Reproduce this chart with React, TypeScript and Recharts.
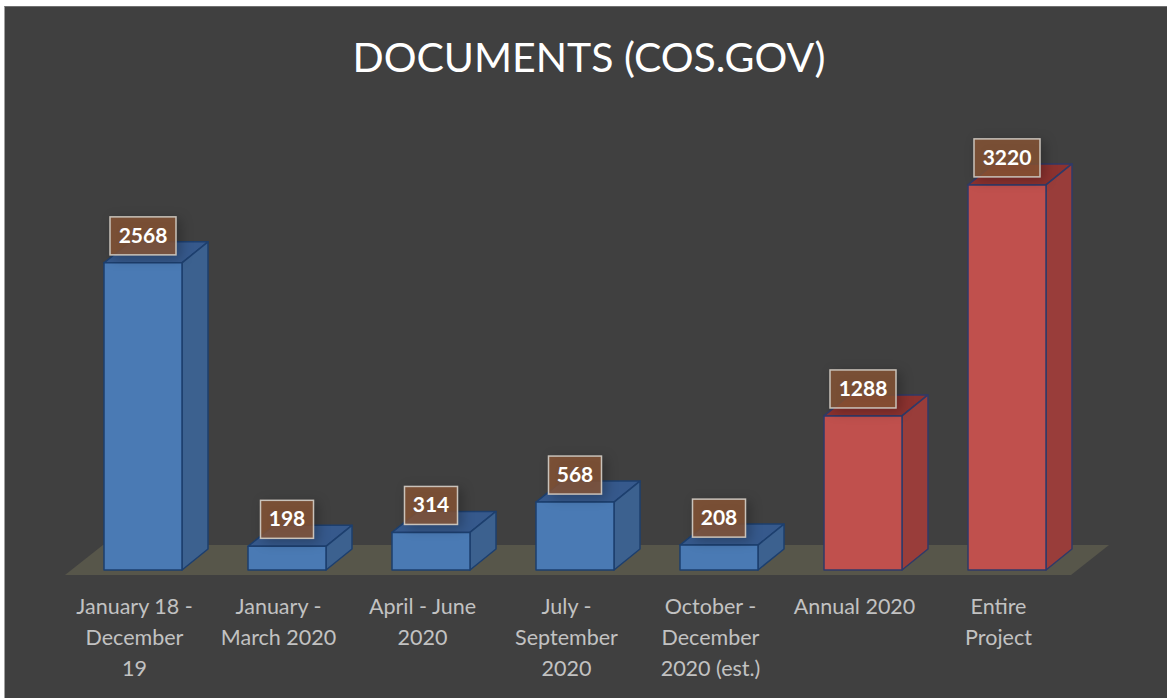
import { BarChart, Bar, XAxis, YAxis, LabelList, ReferenceArea } from "recharts";

const categories = [
  "January 18 - December 19",
  "January - March 2020",
  "April - June 2020",
  "July - September 2020",
  "October - December 2020 (est.)",
  "Annual 2020",
  "Entire Project",
];
const documents = [2568, 198, 314, 568, 208, 1288, 3220];
const highlighted = ["Annual 2020", "Entire Project"];

// line breaks as they fall under the bars
const tickLines: string[][] = [
  ["January 18 -", "December", "19"],
  ["January -", "March 2020"],
  ["April - June", "2020"],
  ["July -", "September", "2020"],
  ["October -", "December", "2020 (est.)"],
  ["Annual 2020"],
  ["Entire", "Project"],
];

const chartData = categories.map((name, i) => ({ name, documents: documents[i] }));

const DEPTH_X = 26;
const DEPTH_Y = 21;
const FONT = "Lato, 'Open Sans', sans-serif";

function Box3D(props: any) {
  const { x, y, width, height, payload } = props;
  const red = highlighted.includes(payload.name);
  const front = red ? "#c0504d" : "#4a7ab4";
  const side = red ? "#993d3a" : "#3c618f";
  const top = red ? "#8c322f" : "#36598c";
  const line = red ? "#2f3a68" : "#1d3f6e";
  const r = x + width;
  const b = y + height;
  return (
    <g stroke={line} strokeWidth={1.5} strokeLinejoin="round">
      <polygon
        points={`${x},${y} ${x + DEPTH_X},${y - DEPTH_Y} ${r + DEPTH_X},${y - DEPTH_Y} ${r},${y}`}
        fill={top}
      />
      <polygon
        points={`${r},${y} ${r + DEPTH_X},${y - DEPTH_Y} ${r + DEPTH_X},${b - DEPTH_Y} ${r},${b}`}
        fill={side}
      />
      <rect x={x} y={y} width={width} height={height} fill={front} />
    </g>
  );
}

function Floor(props: any) {
  const { x, y, width, height } = props;
  const b = y + height;
  return (
    <polygon
      points={`${x - 6},${b + 5} ${x + 32},${b - 25} ${x + width + 30},${b - 25} ${x + width - 8},${b + 5}`}
      fill="#57564a"
    />
  );
}

function ValueLabel(props: any) {
  const { x, y, width, value } = props;
  const text = String(value);
  const w = text.length * 13 + 14;
  const h = 38;
  const cx = x + width / 2;
  return (
    <g>
      <rect
        x={cx - w / 2}
        y={y - 8 - h}
        width={w}
        height={h}
        fill="#8a5535"
        fillOpacity={0.8}
        stroke="#c9c2ba"
        strokeWidth={1.5}
        style={{ filter: "drop-shadow(4px 3px 6px rgba(0,0,0,0.3))" }}
      />
      <text
        x={cx}
        y={y - 8 - h / 2 + 7}
        textAnchor="middle"
        fill="#ffffff"
        fontFamily={FONT}
        fontWeight={700}
        fontSize={21}
      >
        {text}
      </text>
    </g>
  );
}

function CategoryTick(props: any) {
  const { x, y, index } = props;
  return (
    <text y={y} textAnchor="middle" fill="#c2c2c2" fontFamily={FONT} fontSize={21.5}>
      {tickLines[index].map((line, i) => (
        <tspan key={line} x={x - 8.5} dy={i === 0 ? 36 : 31}>
          {line}
        </tspan>
      ))}
    </text>
  );
}

export default function App() {
  return (
    <div style={{ position: "absolute", left: 0, top: 0, width: 1167, height: 698, background: "#fff" }}>
      <div
        style={{
          position: "absolute",
          left: 4,
          top: 6,
          width: 1163,
          height: 692,
          background: "#404040",
          borderLeft: "1px solid #a0a0a0",
          borderTop: "1px solid #707070",
          boxSizing: "border-box",
        }}
      />
      <div
        style={{
          position: "absolute",
          left: 0,
          top: 33,
          width: 1178,
          textAlign: "center",
          color: "#fff",
          fontFamily: FONT,
          fontSize: 41,
          lineHeight: "48px",
        }}
      >
        DOCUMENTS (COS.GOV)
      </div>
      <div style={{ position: "absolute", left: 0, top: 0 }}>
        <BarChart
          width={1167}
          height={698}
          data={chartData}
          margin={{ top: 151.4, right: 88, bottom: 0, left: 71 }}
        >
          <XAxis dataKey="name" axisLine={false} tickLine={false} interval={0} tick={<CategoryTick />} height={128} />
          <YAxis hide domain={[0, 3500]} />
          <ReferenceArea y1={0} y2={500} shape={<Floor />} ifOverflow="visible" />
          <Bar dataKey="documents" barSize={78} shape={<Box3D />} isAnimationActive={false}>
            <LabelList dataKey="documents" content={<ValueLabel />} />
          </Bar>
        </BarChart>
      </div>
    </div>
  );
}
